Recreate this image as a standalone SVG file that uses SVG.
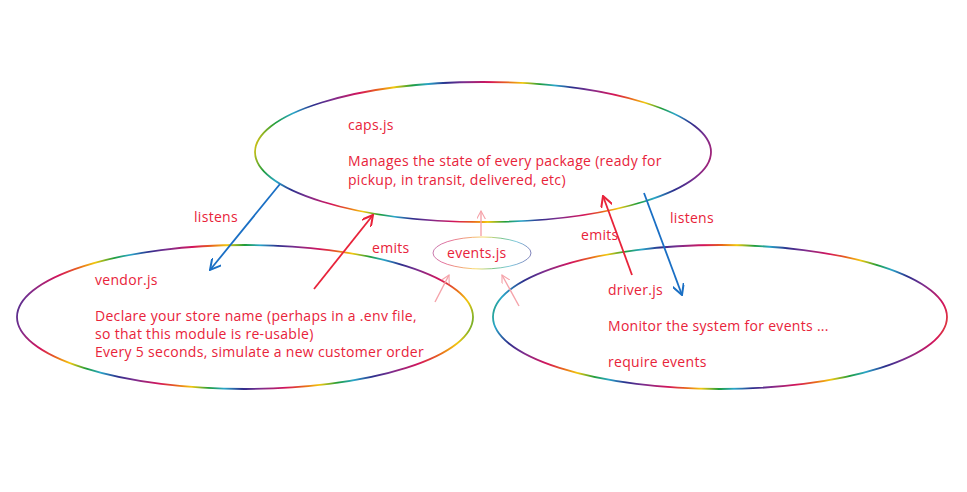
<svg xmlns="http://www.w3.org/2000/svg" width="967" height="492" viewBox="0 0 967 492">
<defs>
<linearGradient id="rb" gradientUnits="userSpaceOnUse" x1="0" y1="0" x2="120" y2="30" spreadMethod="repeat">
<stop offset="0" stop-color="#d4145a"/>
<stop offset="0.14" stop-color="#e8641c"/>
<stop offset="0.26" stop-color="#f2c80f"/>
<stop offset="0.4" stop-color="#1f9d3a"/>
<stop offset="0.52" stop-color="#2aa6c9"/>
<stop offset="0.66" stop-color="#2b2f8c"/>
<stop offset="0.8" stop-color="#7b2d8e"/>
<stop offset="1" stop-color="#d4145a"/>
</linearGradient>
<marker id="hb" viewBox="0 0 12 12" refX="11" refY="6" markerWidth="12" markerHeight="12" markerUnits="userSpaceOnUse" orient="auto"><path d="M0,0 L11,6 L0,12" fill="none" stroke="#1a6fc4" stroke-width="2"/></marker>
<marker id="hr" viewBox="0 0 12 12" refX="11" refY="6" markerWidth="12" markerHeight="12" markerUnits="userSpaceOnUse" orient="auto"><path d="M0,0 L11,6 L0,12" fill="none" stroke="#e8233a" stroke-width="2"/></marker>
<marker id="hp" viewBox="0 0 12 12" refX="11" refY="6" markerWidth="9" markerHeight="9" markerUnits="userSpaceOnUse" orient="auto"><path d="M0,0 L11,6 L0,12" fill="none" stroke="#f5a3aa" stroke-width="1.5"/></marker>
</defs>
<style>
.ell{fill:none;stroke:url(#rb);stroke-width:1.8}
.ells{fill:none;stroke:url(#rb);stroke-width:1;opacity:0.6}
text{font-family:"Open Sans","Liberation Sans",sans-serif;font-size:14px;letter-spacing:0.3px;fill:#e8233a}
.blue{stroke:#1a6fc4;stroke-width:1.8;fill:none}
.red{stroke:#e8233a;stroke-width:1.8;fill:none}
.pink{stroke:#f5a3aa;stroke-width:1.4;fill:none}
</style>
<rect width="967" height="492" fill="#ffffff"/>
<g id="caps">
<ellipse class="ell" cx="483" cy="152" rx="228" ry="70"/>
<text x="348" y="130">caps.js</text>
<text x="348" y="166">Manages the state of every package (ready for</text>
<text x="348" y="185">pickup, in transit, delivered, etc)</text>
</g>
<g id="vendor">
<ellipse class="ell" cx="245" cy="317" rx="228" ry="72"/>
<text x="95" y="285">vendor.js</text>
<text x="95" y="321">Declare your store name (perhaps in a .env file,</text>
<text x="95" y="339">so that this module is re-usable)</text>
<text x="95" y="357">Every 5 seconds, simulate a new customer order</text>
</g>
<g id="driver">
<ellipse class="ell" cx="720" cy="317" rx="227" ry="72"/>
<text x="608" y="295">driver.js</text>
<text x="608" y="331">Monitor the system for events ...</text>
<text x="608" y="367">require events</text>
</g>
<g id="events">
<ellipse class="ells" cx="482" cy="253" rx="49" ry="16"/>
<text x="447" y="258">events.js</text>
</g>
<g id="connectors">
<line class="blue" x1="280" y1="184" x2="210" y2="270" marker-end="url(#hb)"/>
<line class="red" x1="314" y1="289" x2="373" y2="215" marker-end="url(#hr)"/>
<line class="red" x1="632" y1="275" x2="603" y2="196" marker-end="url(#hr)"/>
<line class="blue" x1="644" y1="193" x2="682" y2="295" marker-end="url(#hb)"/>
<line class="pink" x1="481" y1="236" x2="481" y2="211" marker-end="url(#hp)"/>
<line class="pink" x1="435" y1="302" x2="449" y2="275" marker-end="url(#hp)"/>
<line class="pink" x1="519" y1="306" x2="502" y2="275" marker-end="url(#hp)"/>
<text x="194" y="222">listens</text>
<text x="372" y="253">emits</text>
<text x="581" y="240">emits</text>
<text x="670" y="223">listens</text>
</g>
</svg>
